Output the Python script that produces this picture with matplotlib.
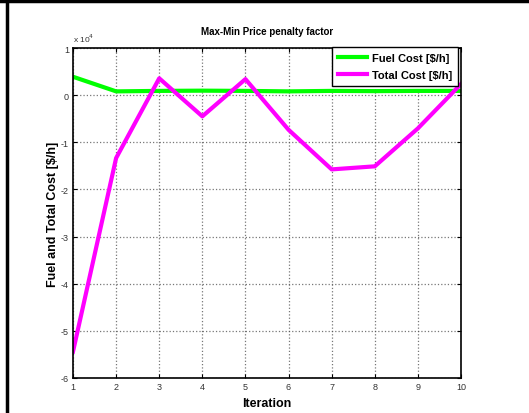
import matplotlib.pyplot as plt
from matplotlib.lines import Line2D

plt.rcParams['font.family'] = ['Liberation Sans', 'DejaVu Sans']
plt.rcParams['axes.unicode_minus'] = False

iteration = [1, 2, 3, 4, 5, 6, 7, 8, 9, 10]
fuel_cost = [3900, 800, 900, 950, 900, 800, 900, 850, 900, 900]
total_cost = [-54400, -13350, 3570, -4500, 3400, -7350, -15750, -15100, -7050, 2360]

fig = plt.figure(figsize=(5.29, 4.14), dpi=100)
ax = fig.add_axes([73/529, 1 - 379/414, (461 - 73)/529, (379 - 49)/414])

ax.plot(iteration, [v/1e4 for v in fuel_cost], color='#00ff00', lw=3, label='Fuel Cost [$/h]')
ax.plot(iteration, [v/1e4 for v in total_cost], color='#ff00ff', lw=3, label='Total Cost [$/h]')

ax.set_xlim(1, 10)
ax.set_ylim(-6, 1)
ax.set_xticks(range(1, 11))
ax.set_yticks(range(-6, 2))
ax.grid(True, color='#555555', ls=':', lw=0.9, alpha=0.8)
ax.tick_params(direction='in', top=True, right=True, labelsize=6.5, length=3, pad=3,
               labelcolor='#333333')
for s in ax.spines.values():
    s.set_linewidth(1.2)

ax.set_title('Max-Min Price penalty factor', fontsize=7, fontweight='bold', pad=10)
ax.set_xlabel('Iteration', fontsize=9, fontweight='bold', labelpad=4)
ax.set_ylabel('Fuel and Total Cost [$/h]', fontsize=9, fontweight='bold', labelpad=1)
ax.text(0, 1.012, r'x 10$^{4}$', transform=ax.transAxes, fontsize=6, ha='left', va='bottom',
        color='#333333')

leg = ax.legend(loc='upper right', prop={'weight': 'bold', 'size': 8},
                fancybox=False, framealpha=1, edgecolor='black',
                bbox_to_anchor=(0.993, 1.002), borderaxespad=0,
                handlelength=2.6, borderpad=0.5, labelspacing=0.65, handletextpad=0.5)
leg.get_frame().set_linewidth(1)

# figure border (left and top)
fig.add_artist(Line2D([6.5/529, 6.5/529], [0, 1], color='black', lw=2.5, transform=fig.transFigure))
fig.add_artist(Line2D([0, 1], [1 - 1.5/414, 1 - 1.5/414], color='black', lw=2.5, transform=fig.transFigure))

fig.savefig('out.png', dpi=100)
